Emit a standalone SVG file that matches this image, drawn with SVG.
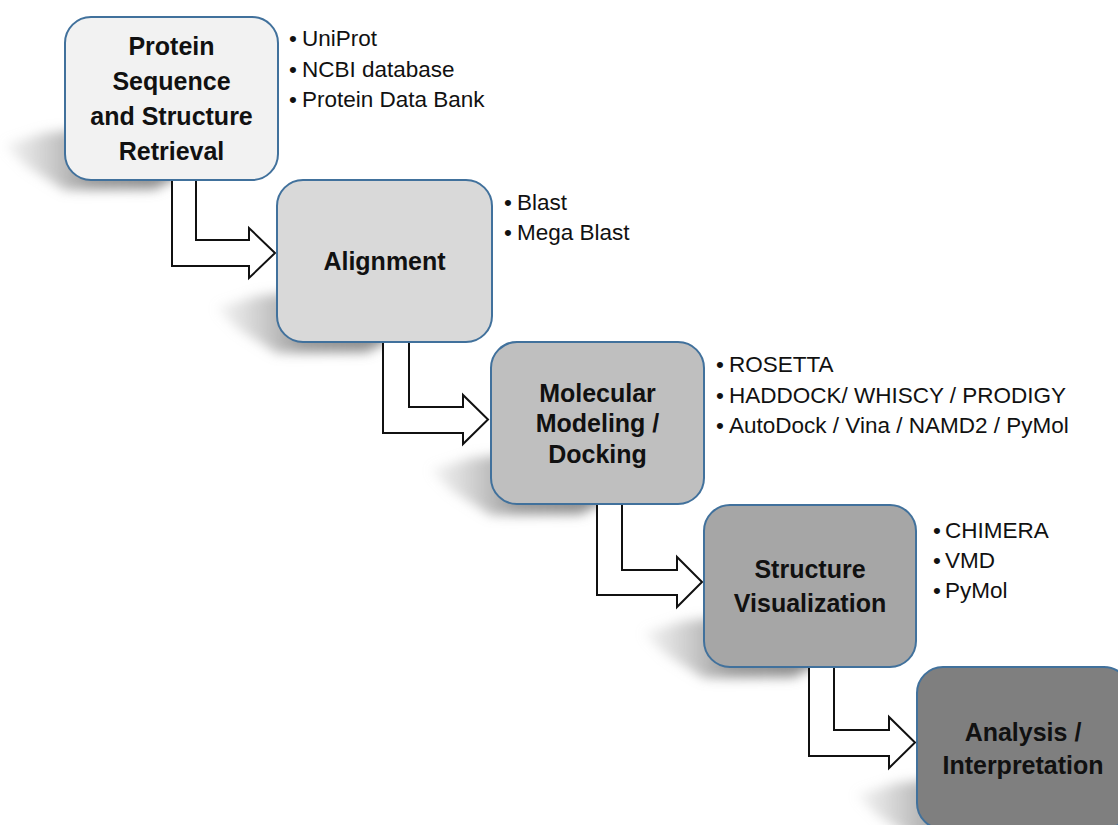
<svg xmlns="http://www.w3.org/2000/svg" width="1118" height="825" viewBox="0 0 1118 825">
<style>
.box{stroke:#41719c;stroke-width:2}
.title{font-family:"Liberation Sans",Arial,sans-serif;font-weight:bold;font-size:25px;fill:#111;text-anchor:middle}
.item{font-family:"Liberation Sans",Arial,sans-serif;font-size:22.5px;fill:#111}
.arrow{fill:#fff;stroke:#111;stroke-width:2;stroke-linejoin:miter}
.shadow{fill:url(#shg);filter:url(#blur)}
</style>
<defs>
<filter id="blur" x="-50%" y="-50%" width="200%" height="200%"><feGaussianBlur stdDeviation="6"/></filter>
<linearGradient id="shg" x1="0" y1="0" x2="1" y2="0">
<stop offset="0" stop-color="#bdbdbd" stop-opacity="0.2"/>
<stop offset="0.45" stop-color="#8a8a8a" stop-opacity="0.85"/>
<stop offset="1" stop-color="#777" stop-opacity="0.9"/>
</linearGradient>
<path id="shp" d="M-60,128 L-20,116 L20,112 L130,150 L90,172 L0,173 L-40,148 Z"/>
</defs>
<rect width="1118" height="825" fill="#fff"/>
<g id="shadows">
<use href="#shp" class="shadow" transform="translate(65,17)"/>
<use href="#shp" class="shadow" transform="translate(277,180)"/>
<use href="#shp" class="shadow" transform="translate(491,342)"/>
<use href="#shp" class="shadow" transform="translate(704,505)"/>
<use href="#shp" class="shadow" transform="translate(917,667)"/>
</g>
<g id="connectors">
<path class="arrow" d="M172,179 L172,266 L249,266 L249,278 L275,253 L249,228 L249,240 L196,240 L196,179 Z"/>
<path class="arrow" d="M383,342 L383,433 L463,433 L463,444 L488,419.5 L463,395 L463,407 L409,407 L409,342 Z"/>
<path class="arrow" d="M597,504 L597,595 L677,595 L677,607 L702,582 L677,557 L677,570 L622,570 L622,504 Z"/>
<path class="arrow" d="M809,667 L809,756 L889,756 L889,768 L915,742.5 L889,717 L889,730 L834,730 L834,667 Z"/>
</g>
<g id="node1">
<rect class="box" x="65" y="17" width="213" height="163" rx="26" fill="#f2f2f2"/>
<text class="title"><tspan x="171.5" y="55">Protein</tspan><tspan x="171.5" y="90">Sequence</tspan><tspan x="171.5" y="125">and Structure</tspan><tspan x="171.5" y="160">Retrieval</tspan></text>
</g>
<g id="node1-list" class="item">
<text x="289" y="46">•</text><text x="302" y="46">UniProt</text>
<text x="289" y="77">•</text><text x="302" y="77">NCBI database</text>
<text x="289" y="107">•</text><text x="302" y="107">Protein Data Bank</text>
</g>
<g id="node2">
<rect class="box" x="277" y="180" width="215" height="162" rx="26" fill="#d9d9d9"/>
<text class="title" x="384.5" y="270">Alignment</text>
</g>
<g id="node2-list" class="item">
<text x="504" y="210">•</text><text x="517" y="210">Blast</text>
<text x="504" y="240">•</text><text x="517" y="240">Mega Blast</text>
</g>
<g id="node3">
<rect class="box" x="491" y="342" width="213" height="162" rx="26" fill="#bfbfbf"/>
<text class="title"><tspan x="597.5" y="402">Molecular</tspan><tspan x="597.5" y="432">Modeling /</tspan><tspan x="597.5" y="463">Docking</tspan></text>
</g>
<g id="node3-list" class="item">
<text x="716" y="372">•</text><text x="729" y="372">ROSETTA</text>
<text x="716" y="403">•</text><text x="729" y="403">HADDOCK/ WHISCY / PRODIGY</text>
<text x="716" y="433">•</text><text x="729" y="433">AutoDock / Vina / NAMD2 / PyMol</text>
</g>
<g id="node4">
<rect class="box" x="704" y="505" width="212" height="162" rx="26" fill="#a6a6a6"/>
<text class="title"><tspan x="810" y="578">Structure</tspan><tspan x="810" y="612">Visualization</tspan></text>
</g>
<g id="node4-list" class="item">
<text x="933" y="538">•</text><text x="945" y="538">CHIMERA</text>
<text x="933" y="568">•</text><text x="945" y="568">VMD</text>
<text x="933" y="598">•</text><text x="945" y="598">PyMol</text>
</g>
<g id="node5">
<rect class="box" x="917" y="667" width="213" height="162" rx="26" fill="#7f7f7f"/>
<text class="title"><tspan x="1023" y="741">Analysis /</tspan><tspan x="1023" y="774">Interpretation</tspan></text>
</g>
</svg>
